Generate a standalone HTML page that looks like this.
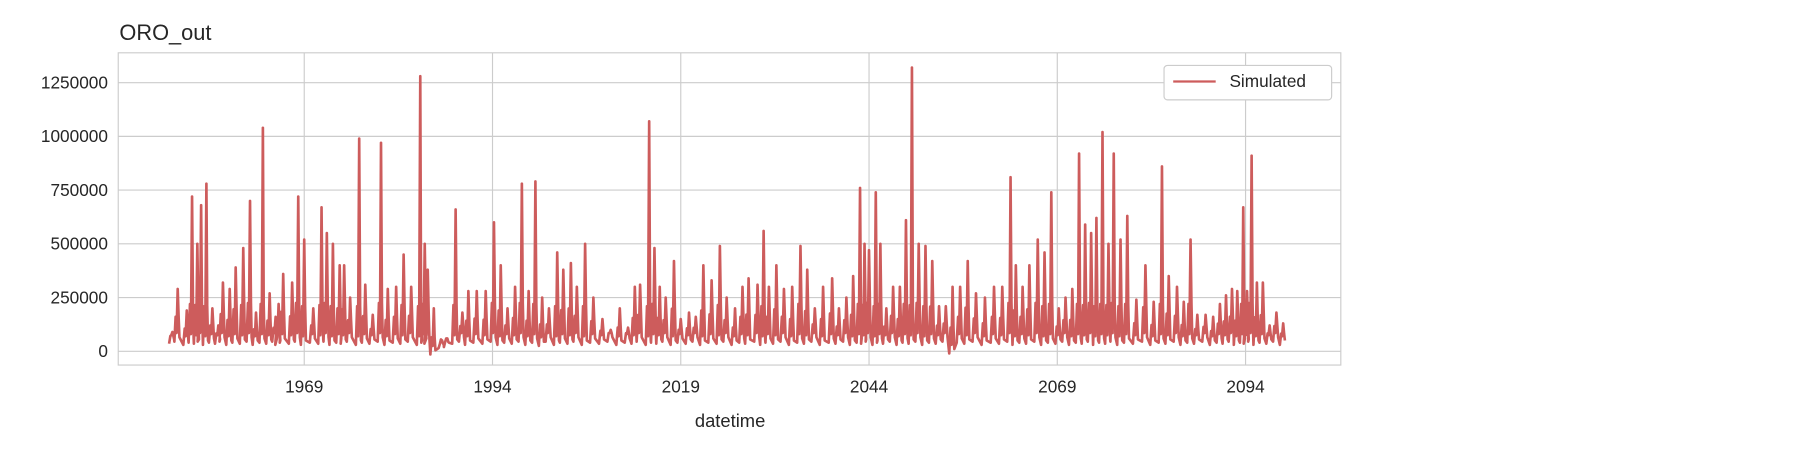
<!DOCTYPE html>
<html><head><meta charset="utf-8"><style>
body{margin:0;background:#fff;}
svg{display:block;font-family:"Liberation Sans",Arial,sans-serif;}
</style></head><body>
<svg id="chart" width="1800" height="450" viewBox="0 0 1568 392">
<text x="104" y="35" font-size="19" fill="#262626">ORO_out</text>
<g id="grid"></g><g id="series"></g><g id="axes"></g>
<g>
<rect x="1014" y="57" width="146" height="30" rx="3" fill="#fff" stroke="#ccc"/>
<line x1="1022" y1="71" x2="1059" y2="71" stroke="#cd5c5c" stroke-width="2"/>
<text x="1071" y="76" font-size="15" fill="#262626">Simulated</text>
</g>
<text x="636" y="372" font-size="16" text-anchor="middle" fill="#262626">datetime</text>
</svg>
<script>
const peakYears=[1951.5,1952.2,1953.4,1954.1,1954.8,1955.3,1956.0,1956.8,1957.6,1958.2,1959.1,1959.9,1960.9,1961.8,1962.6,1963.5,1964.4,1965.2,1965.6,1966.2,1967.4,1968.2,1969.0,1970.2,1971.3,1972.0,1972.8,1973.7,1974.3,1975.1,1976.3,1977.1,1978.1,1979.2,1980.1,1981.2,1982.2,1983.2,1984.4,1985.0,1985.4,1986.2,1987.3,1988.0,1989.1,1990.0,1990.8,1991.9,1993.1,1994.2,1995.1,1996.0,1997.0,1997.9,1998.8,1999.7,2000.6,2001.5,2002.6,2003.4,2004.4,2005.2,2006.3,2007.4,2008.6,2009.7,2010.9,2012.0,2012.9,2013.6,2014.8,2015.5,2016.2,2017.0,2018.1,2019.0,2020.1,2021.0,2022.0,2023.1,2024.2,2025.1,2026.2,2027.2,2028.0,2029.2,2030.0,2030.7,2031.7,2032.7,2033.8,2034.9,2035.8,2036.8,2037.9,2039.1,2040.0,2041.0,2041.9,2042.8,2043.4,2044.0,2044.9,2045.5,2046.3,2047.2,2048.1,2048.9,2049.7,2050.6,2051.5,2052.4,2053.3,2054.2,2055.1,2056.1,2057.1,2058.2,2059.4,2060.6,2061.7,2062.8,2063.5,2064.4,2065.3,2066.4,2067.3,2068.2,2069.2,2070.1,2071.0,2071.9,2072.7,2073.5,2074.2,2075.0,2075.8,2076.5,2077.4,2078.3,2079.5,2080.7,2081.8,2082.9,2083.8,2084.9,2085.8,2086.7,2087.6,2088.7,2089.7,2090.6,2091.4,2092.2,2092.9,2093.7,2094.2,2094.8,2095.5,2096.3,2097.2,2098.1,2099.0];
const peakValues=[90000,290000,190000,720000,500000,680000,780000,200000,120000,320000,290000,390000,480000,700000,180000,1040000,270000,160000,220000,360000,320000,720000,520000,200000,670000,550000,500000,400000,400000,250000,990000,310000,170000,970000,290000,300000,450000,300000,1280000,500000,380000,200000,50000,60000,660000,180000,280000,280000,280000,600000,400000,200000,300000,780000,280000,790000,250000,200000,460000,380000,410000,300000,500000,250000,150000,100000,200000,110000,300000,310000,1070000,480000,300000,250000,420000,150000,180000,160000,400000,330000,490000,250000,200000,300000,340000,310000,560000,300000,400000,290000,300000,490000,380000,200000,300000,340000,200000,250000,350000,760000,500000,470000,740000,500000,200000,300000,300000,610000,1320000,500000,490000,420000,210000,210000,300000,300000,420000,270000,250000,300000,300000,810000,400000,300000,400000,520000,460000,740000,200000,250000,290000,920000,590000,550000,620000,1020000,500000,920000,520000,630000,240000,400000,230000,860000,350000,300000,230000,520000,170000,170000,160000,220000,260000,290000,280000,670000,280000,910000,320000,320000,120000,180000,130000];
const troughValues=peakYears.map((y,i)=>[35000,45000,30000,40000][i%4]);
troughValues[41]=-15000;troughValues[42]=15000;troughValues[43]=20000;troughValues[56]=25000;troughValues[114]=-10000;
const yTicks=[0,250000,500000,750000,1000000,1250000];
const xTicks=[1969,1994,2019,2044,2069,2094];
const NS='http://www.w3.org/2000/svg';
const L=103,R=1168,T=46,B=318;
const x0=1944.3,x1=2106.65,y0=-64100,y1=1388900;
const sx=v=>L+(v-x0)/(x1-x0)*(R-L);
const sy=v=>B-(v-y0)/(y1-y0)*(B-T);
function mk(tag,attrs,parent){const e=document.createElementNS(NS,tag);for(const k in attrs)e.setAttribute(k,attrs[k]);parent.appendChild(e);return e;}
const grid=document.getElementById('grid'),axes=document.getElementById('axes'),ser=document.getElementById('series');
yTicks.forEach(v=>{
 const l=mk('line',{x1:L,x2:R,y1:sy(v),y2:sy(v),stroke:'#cccccc','stroke-width':1},grid);
 
 
 const t=mk('text',{x:L-9,y:sy(v)+5,'font-size':15,'text-anchor':'end',fill:'#262626'},axes);
 t.textContent=v;
 
 
});
xTicks.forEach(v=>{
 const l=mk('line',{x1:sx(v),x2:sx(v),y1:T,y2:B,stroke:'#cccccc','stroke-width':1},grid);
 
 
 const t=mk('text',{x:sx(v),y:B+24,'font-size':15,'text-anchor':'middle',fill:'#262626'},axes);
 t.textContent=v;
 
 
});
const fr=mk('rect',{x:L,y:T,width:R-L,height:B-T,fill:'none',stroke:'#cccccc','stroke-width':1},axes);


let d='';
peakYears.forEach((y,i)=>{
 const tv=troughValues[i],pv=peakValues[i];
 const sh=tv+Math.min(pv*0.4,180000);
 d+=(i?'L':'M')+sx(y-0.45).toFixed(1)+','+sy(tv).toFixed(1)
  +'L'+sx(y-0.28).toFixed(1)+','+sy(sh).toFixed(1)
  +'L'+sx(y-0.15).toFixed(1)+','+sy(tv+40000).toFixed(1)
  +'L'+sx(y).toFixed(1)+','+sy(pv).toFixed(1)
  +'L'+sx(y+0.12).toFixed(1)+','+sy(sh).toFixed(1)
  +'L'+sx(y+0.22).toFixed(1)+','+sy(tv+20000).toFixed(1);
});
const p=mk('path',{d:d,fill:'none',stroke:'#cd5c5c','stroke-width':2.3,'stroke-linejoin':'round'},ser);


</script>
</body></html>
